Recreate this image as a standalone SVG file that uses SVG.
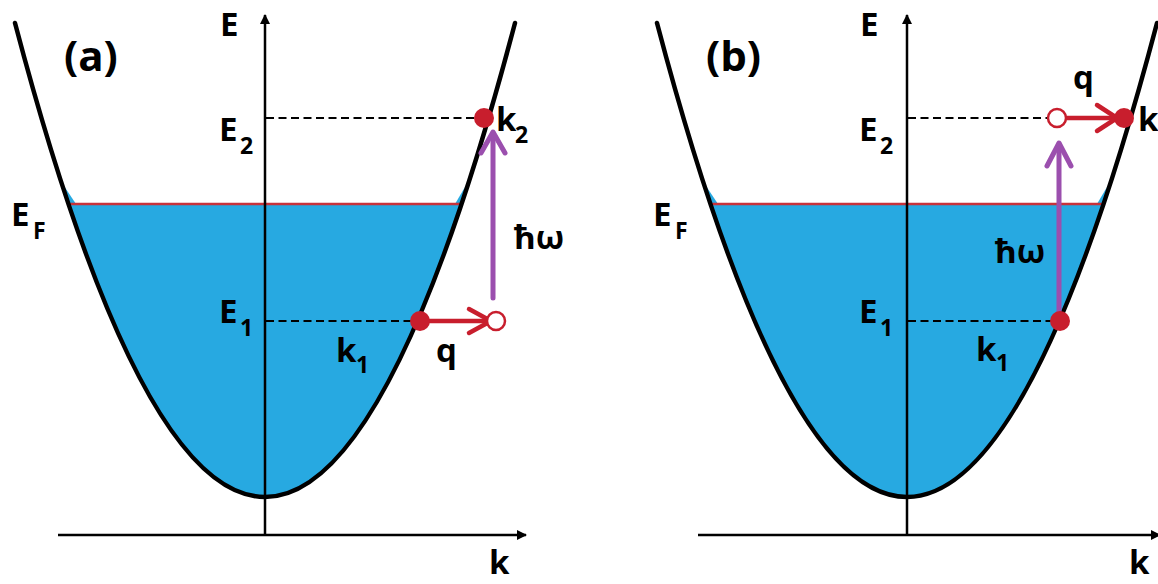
<svg xmlns="http://www.w3.org/2000/svg" width="1158" height="584" viewBox="0 0 1158 584">
<defs>
<style>
.fill{fill:#27a9e1;stroke:none}
.band{fill:none;stroke:#000;stroke-width:4.5;stroke-linecap:round}
.axis{fill:none;stroke:#000;stroke-width:2.5}
.ef{stroke:#c8323a;stroke-width:2.5}
.dash{stroke:#000;stroke-width:2.2;stroke-dasharray:8 4.5}
.red{fill:none;stroke:#c81e2d;stroke-width:4.5;stroke-linecap:round;stroke-linejoin:round}
.pur{fill:none;stroke:#9b4fae;stroke-width:5;stroke-linecap:round;stroke-linejoin:round}
.dot{fill:#c81e2d}
.open{fill:#fff;stroke:#c81e2d;stroke-width:2.5}
text{font-family:"Open Sans","Liberation Sans",sans-serif;font-weight:bold;fill:#000}
.t{font-size:33px}
.s{font-size:23px}
.lab{font-size:42px}
</style>
<marker id="ah" viewBox="0 0 10 10" refX="9" refY="5" markerWidth="4" markerHeight="4" orient="auto" markerUnits="strokeWidth">
<path d="M0,0 L10,5 L0,10 z" fill="#000"/>
</marker>
<clipPath id="ca"><rect x="0" y="204" width="1158" height="380"/></clipPath>
</defs>

<g id="panel-a">
<g id="a-sea">
<path class="fill" clip-path="url(#ca)" d="M15,23 Q265,971 515,23 Z"/>
<polygon class="fill" points="64,186 68,204 76,204"/>
<polygon class="fill" points="465,187 455,204 462,204"/>
<line class="ef" x1="67" y1="204" x2="462" y2="204"/>
</g>
<g id="a-axes">
<line class="axis" x1="265" y1="535" x2="265" y2="15" marker-end="url(#ah)"/>
<line class="axis" x1="58" y1="535" x2="526" y2="535" marker-end="url(#ah)"/>
</g>
<path id="a-band" class="band" d="M15,23 Q265,971 515,23"/>
<g id="a-levels">
<line class="dash" x1="266" y1="118" x2="483" y2="118"/>
<line class="dash" x1="266" y1="321" x2="420" y2="321"/>
</g>
<g id="a-connectors">
<line class="red" x1="420" y1="321" x2="490" y2="321"/>
<polyline class="red" points="469,309 491,321 469,333"/>
<line class="pur" x1="493" y1="298" x2="493" y2="133"/>
<polyline class="pur" points="481,153 493,132 505,153"/>
</g>
<g id="a-k1"><circle class="dot" cx="420" cy="321" r="10"/></g>
<g id="a-k2"><circle class="dot" cx="484" cy="118" r="10"/></g>
<g id="a-hole"><circle class="open" cx="496" cy="321" r="9"/></g>
<g id="a-text">
<text class="lab" x="64" y="71">(a)</text>
<text class="t" x="220" y="36">E</text>
<text class="t" x="219" y="141">E</text><text class="s" x="240" y="154">2</text>
<text class="t" x="11" y="226">E</text><text class="s" x="33" y="239">F</text>
<text class="t" x="219" y="323">E</text><text class="s" x="240" y="336">1</text>
<text class="t" x="496" y="131">k</text><text class="s" x="515" y="143">2</text>
<text class="t" x="514" y="249">ħω</text>
<text class="t" x="436" y="362">q</text>
<text class="t" x="336" y="362">k</text><text class="s" x="356" y="373">1</text>
<text class="t" x="489" y="574">k</text>
</g>
</g>

<g id="panel-b">
<g id="b-sea">
<path class="fill" clip-path="url(#ca)" d="M657,23 Q907,971 1157,23 Z"/>
<polygon class="fill" points="706,186 710,204 718,204"/>
<polygon class="fill" points="1107,187 1097,204 1104,204"/>
<line class="ef" x1="709" y1="204" x2="1104" y2="204"/>
</g>
<g id="b-axes">
<line class="axis" x1="907" y1="535" x2="907" y2="15" marker-end="url(#ah)"/>
<line class="axis" x1="698" y1="535" x2="1160" y2="535" marker-end="url(#ah)"/>
</g>
<path id="b-band" class="band" d="M657,23 Q907,971 1157,23"/>
<g id="b-levels">
<line class="dash" x1="908" y1="118" x2="1050" y2="118"/>
<line class="dash" x1="908" y1="321" x2="1060" y2="321"/>
</g>
<g id="b-connectors">
<line class="red" x1="1058" y1="118" x2="1116" y2="118"/>
<polyline class="red" points="1097,105 1117,118 1097,131"/>
<line class="pur" x1="1059" y1="321" x2="1059" y2="144"/>
<polyline class="pur" points="1047,166 1059,143 1071,166"/>
</g>
<g id="b-hole"><circle class="open" cx="1057" cy="118" r="9"/></g>
<g id="b-k1"><circle class="dot" cx="1060" cy="321" r="10"/></g>
<g id="b-k2"><circle class="dot" cx="1124" cy="118" r="10"/></g>
<g id="b-text">
<text class="lab" x="706" y="71">(b)</text>
<text class="t" x="860" y="36">E</text>
<text class="t" x="859" y="141">E</text><text class="s" x="880" y="154">2</text>
<text class="t" x="653" y="226">E</text><text class="s" x="675" y="239">F</text>
<text class="t" x="859" y="323">E</text><text class="s" x="880" y="336">1</text>
<text class="t" x="1138" y="131">k</text>
<text class="t" x="995" y="263">ħω</text>
<text class="t" x="1073" y="89">q</text>
<text class="t" x="976" y="361">k</text><text class="s" x="996" y="371">1</text>
<text class="t" x="1129" y="574">k</text>
</g>
</g>
</svg>
